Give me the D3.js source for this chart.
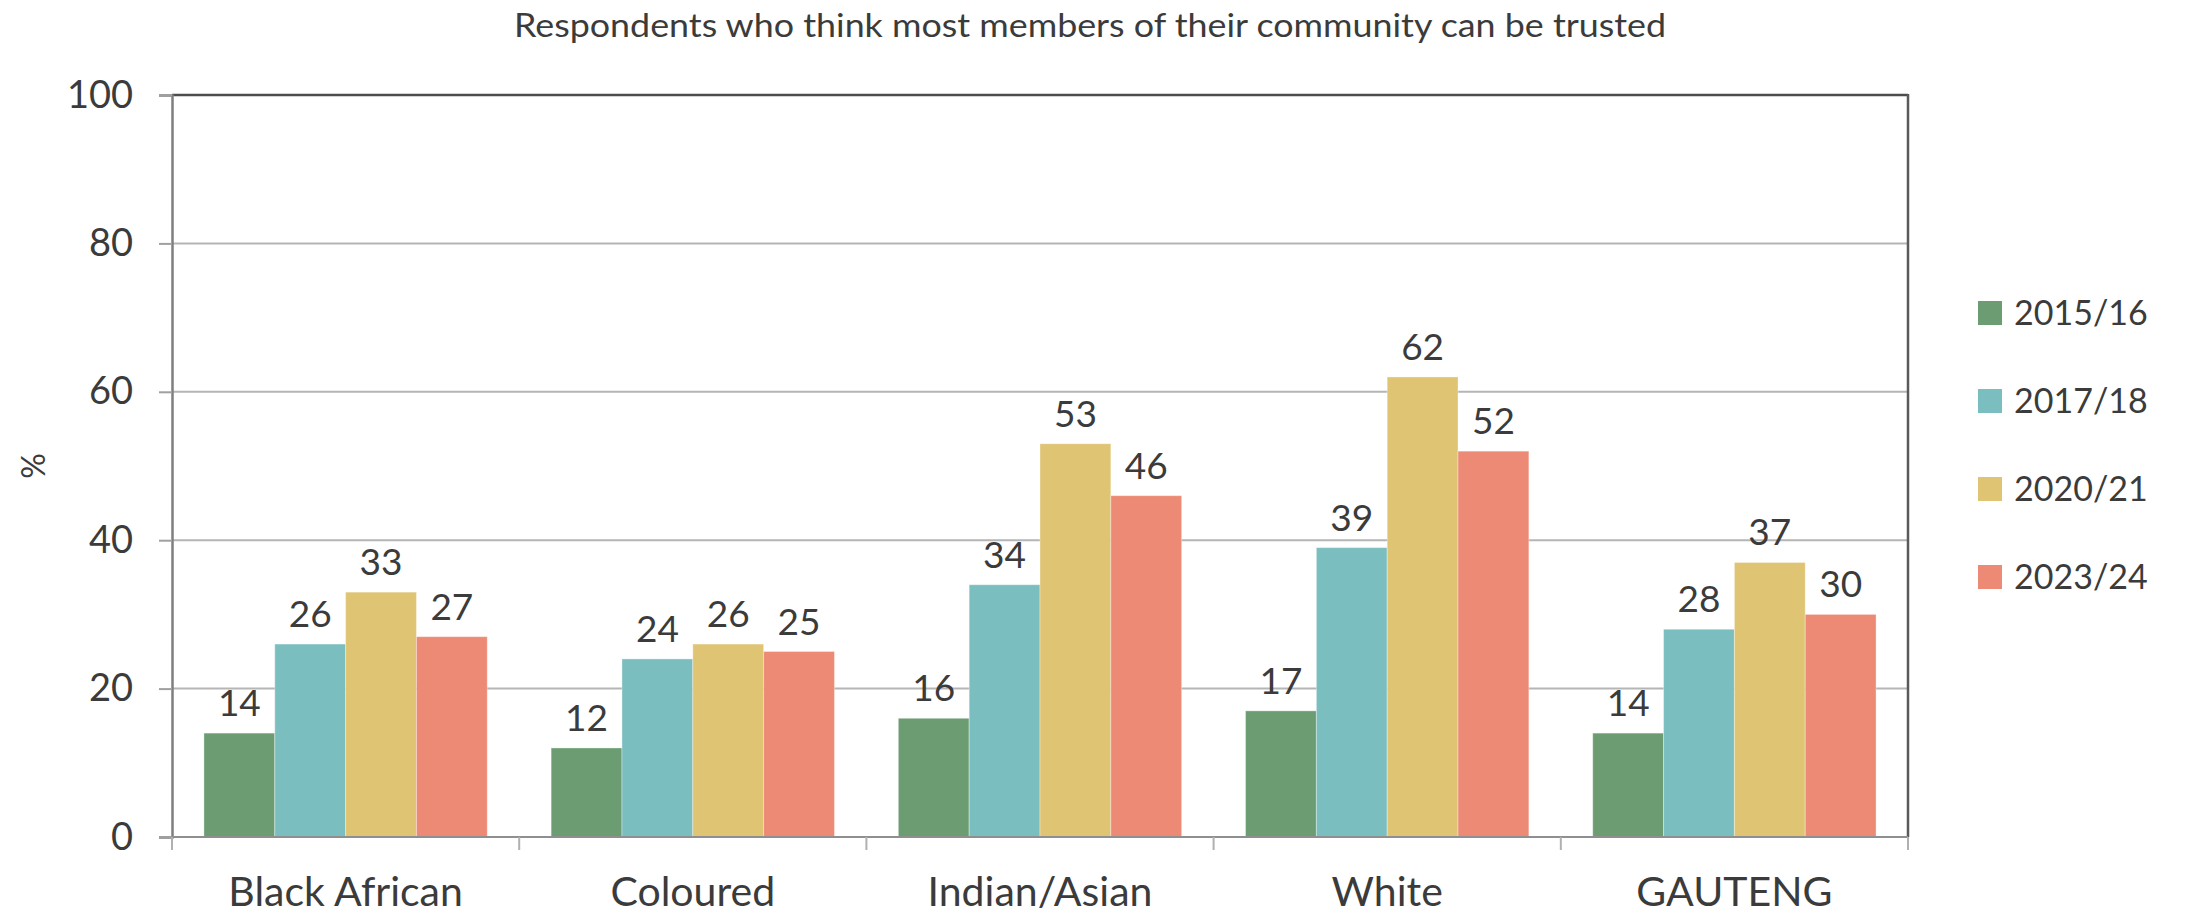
<!DOCTYPE html>
<html>
<head>
<meta charset="utf-8">
<script src="https://cdn.jsdelivr.net/npm/d3@7"></script>
<style>
  html, body { margin: 0; padding: 0; background: #ffffff; }
  svg { display: block; }
  text { font-family: Lato, "Open Sans", sans-serif; fill: #3b3b3b; }
</style>
</head>
<body>
<svg id="chart" width="2187" height="917"></svg>
<script>
// Survey results: share of respondents who trust most members of their community
const categories = ["Black African", "Coloured", "Indian/Asian", "White", "GAUTENG"];
const seriesNames = ["2015/16", "2017/18", "2020/21", "2023/24"];
const values2015 = [14, 12, 16, 17, 14];
const values2017 = [26, 24, 34, 39, 28];
const values2020 = [33, 26, 53, 62, 37];
const values2023 = [27, 25, 46, 52, 30];
const yTicks = [0, 20, 40, 60, 80, 100];
const colors = ["#6c9c72", "#7bbebf", "#dfc473", "#ec8a75"];
const titleText = "Respondents who think most members of their community can be trusted";
const yLabel = "%";

const seriesValues = [values2015, values2017, values2020, values2023];
const rows = categories.map((c, i) => ({
  category: c,
  values: seriesNames.map((s, j) => ({ series: s, value: seriesValues[j][i] }))
}));

const svg = d3.select("#chart");
const plot = { left: 172, right: 1908, top: 95, bottom: 837 };

const x0 = d3.scaleBand().domain(categories).range([plot.left, plot.right]).padding(0);
const bw = x0.bandwidth();
const x1 = d3.scaleBand().domain(seriesNames).range([bw * 0.092, bw * 0.908]).padding(0);
const y = d3.scaleLinear().domain([0, 100]).range([plot.bottom, plot.top]);
const color = d3.scaleOrdinal().domain(seriesNames).range(colors);

// Title
svg.append("text")
  .attr("x", 1090).attr("y", 37)
  .attr("text-anchor", "middle")
  .attr("font-size", 33)
  .attr("textLength", 1152)
  .attr("lengthAdjust", "spacingAndGlyphs")
  .text(titleText);

// Horizontal gridlines
svg.append("g")
  .selectAll("line")
  .data(yTicks.filter(t => t > 0 && t < 100))
  .join("line")
  .attr("x1", plot.left).attr("x2", plot.right)
  .attr("y1", d => y(d)).attr("y2", d => y(d))
  .attr("stroke", "#b5b5b5").attr("stroke-width", 2);

// Bars
const groups = svg.append("g")
  .selectAll("g")
  .data(rows)
  .join("g")
  .attr("transform", d => `translate(${x0(d.category)},0)`);

groups.selectAll("rect")
  .data(d => d.values)
  .join("rect")
  .attr("x", d => x1(d.series))
  .attr("width", x1.bandwidth())
  .attr("y", d => y(d.value))
  .attr("height", d => y(0) - y(d.value))
  .attr("fill", d => color(d.series))
  .attr("stroke", "rgba(255,255,255,0.35)")
  .attr("stroke-width", 1);

// Value labels
groups.selectAll("text.value")
  .data(d => d.values)
  .join("text")
  .attr("class", "value")
  .attr("x", d => x1(d.series) + x1.bandwidth() / 2)
  .attr("y", d => y(d.value) - 17)
  .attr("text-anchor", "middle")
  .attr("font-size", 37)
  .text(d => d3.format(".0f")(d.value));

// Frame: top and right edges
svg.append("line")
  .attr("x1", plot.left).attr("x2", plot.right)
  .attr("y1", y(100)).attr("y2", y(100))
  .attr("stroke", "#4d4d4d").attr("stroke-width", 2.5);
svg.append("line")
  .attr("x1", plot.right).attr("x2", plot.right)
  .attr("y1", y(100) - 1).attr("y2", plot.bottom)
  .attr("stroke", "#5a5a5a").attr("stroke-width", 2.5);

// Y axis
const yAxis = d3.axisLeft(y).tickValues(yTicks).tickSize(13).tickPadding(26).tickFormat(d3.format("d"));
const gy = svg.append("g").attr("transform", `translate(${plot.left},0)`).call(yAxis);
gy.select(".domain").attr("stroke", "#7f7f7f").attr("stroke-width", 2.5);
gy.selectAll(".tick line").attr("stroke", "#a0a0a0").attr("stroke-width", 2);
gy.selectAll(".tick text")
  .attr("font-size", 38)
  .attr("font-family", "Lato, sans-serif")
  .attr("fill", "#3b3b3b");

// X axis: tick marks at category boundaries
const boundaries = categories.map(c => x0(c)).concat([plot.right]);
svg.append("line")
  .attr("x1", plot.left).attr("x2", plot.right)
  .attr("y1", plot.bottom).attr("y2", plot.bottom)
  .attr("stroke", "#8f8f8f").attr("stroke-width", 2);
svg.append("g")
  .selectAll("line")
  .data(boundaries)
  .join("line")
  .attr("x1", d => d).attr("x2", d => d)
  .attr("y1", plot.bottom).attr("y2", plot.bottom + 13)
  .attr("stroke", "#b0b0b0").attr("stroke-width", 2);

svg.append("g")
  .selectAll("text")
  .data(categories)
  .join("text")
  .attr("x", d => x0(d) + bw / 2)
  .attr("y", 906)
  .attr("text-anchor", "middle")
  .attr("font-size", 41)
  .text(d => d);

// Y axis title
svg.append("text")
  .attr("transform", "translate(45,466) rotate(-90)")
  .attr("text-anchor", "middle")
  .attr("font-size", 32)
  .text(yLabel);

// Legend
const legend = svg.append("g")
  .selectAll("g")
  .data(seriesNames)
  .join("g")
  .attr("transform", (d, i) => `translate(1978,${313 + i * 88})`);
legend.append("rect")
  .attr("x", 0).attr("y", -12)
  .attr("width", 24).attr("height", 24)
  .attr("fill", d => color(d));
legend.append("text")
  .attr("x", 36).attr("y", 0)
  .attr("dy", "0.36em")
  .attr("font-size", 34)
  .text(d => d);
</script>
</body>
</html>
